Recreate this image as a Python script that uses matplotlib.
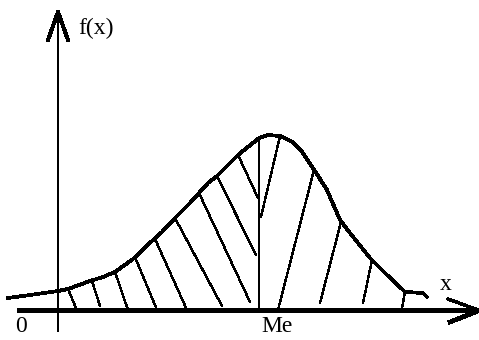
'''
Density curve f(x) with the median Me marked,
areas on both sides of Me hatched by hand-drawn strokes
'''
import numpy as np
import matplotlib
matplotlib.use("Agg")
import matplotlib.pyplot as plt

plt.rcParams['font.family'] = ['Liberation Serif', 'DejaVu Serif']

# curve f(x), origin at the crossing of the axes
curve_x  =  [-50, -28, 0, 10, 32, 45, 57, 75, 94, 104, 118, 132, 150, 159, 180, 201,
             210, 222, 235, 245, 255, 269, 282, 292, 312, 329, 344, 347, 365, 369]
curve_y  =  [12, 15, 19, 21, 29, 33, 38, 51, 69, 78, 93, 107, 127, 134, 155, 172,
             175, 174, 168, 157, 142, 120, 90, 77, 52, 35, 21, 18, 17, 13]

# median
me_x     =  201
me_top   =  172

# hatch strokes: (x0, y0, x1, y1)
hatch_left   =  [(10, 21, 18, 2), (34, 29, 42, 4), (57, 38, 70, 0), (77, 53, 99, 0),
                 (97, 71, 129, 0), (117, 92, 164, 4), (141, 117, 192, 8),
                 (159, 134, 198, 55), (180, 155, 200, 112)]
hatch_right  =  [(222, 174, 203, 93), (256, 140, 220, 0), (283, 88, 262, 7),
                 (314, 50, 305, 7), (347, 18, 344, 2)]

labels   =  ['f(x)', 'x', '0', 'Me']


def paint_density():
    fig  =  plt.figure(figsize=(4.79, 3.40), dpi=100)
    ax   =  fig.add_axes([0, 0, 1, 1])
    ax.set_xlim(-58, 421)
    ax.set_ylim(-30, 310)
    ax.axis('off')

    aa = False

    # x axis with open arrow
    ax.plot([-41, 418], [0, 0], color='k', lw=2.2, antialiased=aa, solid_capstyle='butt')
    ax.plot([390, 420], [11, 0], color='k', lw=1.8, antialiased=aa)
    ax.plot([392, 420], [-12, -1], color='k', lw=2.6, antialiased=aa)

    # y axis with arrow
    ax.plot([0, 0], [-22, 296], color='k', lw=1.4, antialiased=aa, solid_capstyle='butt')
    ax.plot([-10, 0], [270, 298], color='k', lw=2.2, antialiased=aa)
    ax.plot([10, 0], [270, 298], color='k', lw=2.2, antialiased=aa)
    ax.fill([-4, 0, 4], [287, 299, 287], color='k', lw=0, antialiased=aa)

    # density curve
    ax.plot(curve_x, curve_y, color='k', lw=2.0, antialiased=aa, solid_joinstyle='round')

    # median line
    ax.plot([me_x, me_x], [0, me_top], color='k', lw=1.3, antialiased=aa)

    # hatching
    for x0, y0, x1, y1 in hatch_left + hatch_right:
        ax.plot([x0, x1], [y0, y1], color='k', lw=1.0, antialiased=aa)

    # labels
    ax.text(20, 282, labels[0], fontsize=17, ha='left', va='center')
    ax.text(388, 25, labels[1], fontsize=17, ha='center', va='center')
    ax.text(-37, -17, labels[2], fontsize=17, ha='center', va='center')
    ax.text(219, -16, labels[3], fontsize=17, ha='center', va='center')

    plt.savefig('out.png', dpi=100)


def main():
    paint_density()


if __name__ == "__main__":
    main()
